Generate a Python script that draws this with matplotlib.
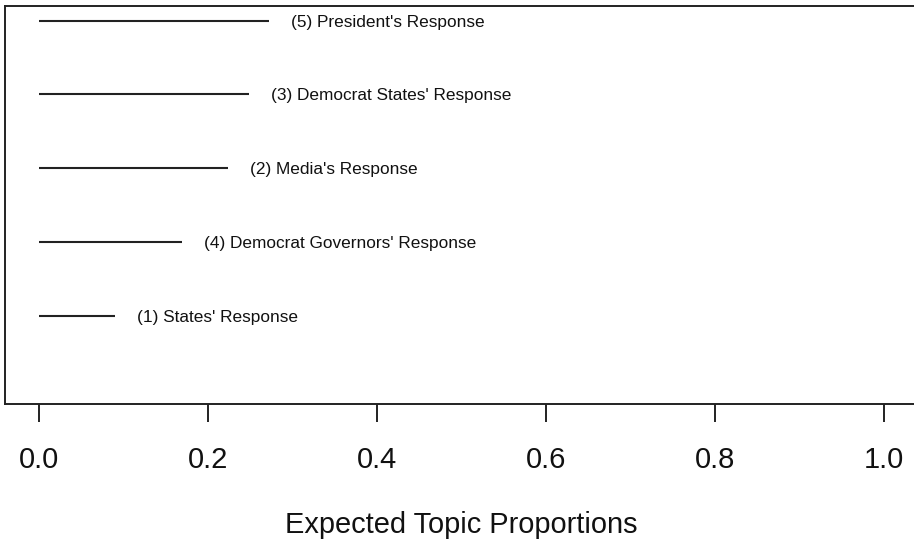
import matplotlib.pyplot as plt

# topics ordered bottom to top, as in the stm summary plot
labels = ["(1) States' Response",
          "(4) Democrat Governors' Response",
          "(2) Media's Response",
          "(3) Democrat States' Response",
          "(5) President's Response"]
proportions = [0.090, 0.169, 0.224, 0.249, 0.272]
xticks = [0.0, 0.2, 0.4, 0.6, 0.8, 1.0]

plt.rcParams['font.family'] = ['Liberation Sans', 'DejaVu Sans']

fig = plt.figure(figsize=(9.14, 5.43), dpi=100)
ax = fig.add_axes([5/914, 139/543, 912.5/914, 398/543])

for i in range(len(labels)):
    y = i + 1
    ax.plot([0, proportions[i]], [y, y], color='#222222', lw=1.5, solid_capstyle='butt')
    ax.annotate(labels[i], xy=(proportions[i], y), xytext=(16, 0),
                textcoords='offset points', va='center_baseline', ha='left',
                fontsize=12.4, color='#111111')

ax.set_xlim(-0.04, 1.04)
ax.set_ylim(-0.2, 5.2)
ax.set_yticks([])
ax.set_xticks(xticks)
ax.set_xticklabels(['%.1f' % t for t in xticks])
ax.tick_params(axis='x', length=13, width=1.4, color='#222222',
               labelsize=21, pad=17, labelcolor='#111111')
for s in ax.spines.values():
    s.set_linewidth(1.4)
    s.set_color('#222222')
ax.set_xlabel('Expected Topic Proportions', fontsize=20.9, labelpad=27, color='#111111')

fig.savefig('out.png', dpi=100)
